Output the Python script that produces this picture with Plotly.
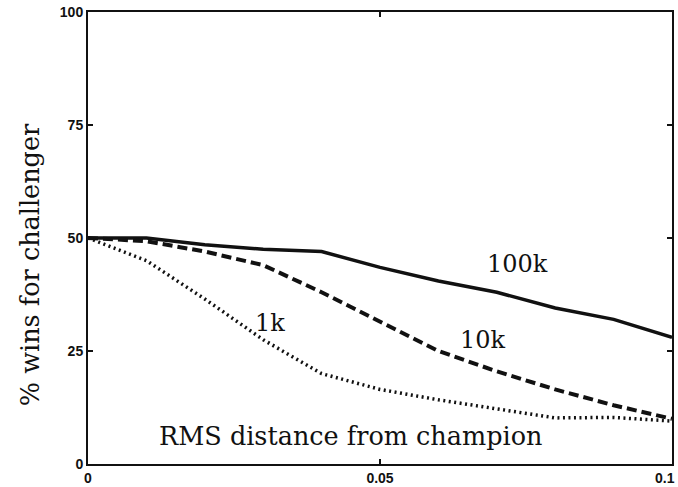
import plotly.graph_objects as go

# data
x_vals = [0, 0.01, 0.02, 0.03, 0.04, 0.05, 0.06, 0.07, 0.08, 0.09, 0.1]
wins_100k = [50, 50, 48.5, 47.5, 47, 43.5, 40.5, 38, 34.5, 32, 28]
wins_10k = [50, 49.3, 47, 44, 38, 31.5, 25, 20.5, 16.5, 13, 10]
wins_1k = [50, 45, 36.5, 27.5, 20, 16.5, 14.2, 12.2, 10.2, 10.3, 9.5]

x_ticks = [0, 0.05, 0.1]
x_tick_text = ["0", "0.05", ""]   # last label drawn separately so it stays inside the page
last_x_label = "0.1"
y_ticks = [0, 25, 50, 75, 100]
y_tick_text = ["0", "25", "50", "75", "100"]

labels = ["100k", "10k", "1k"]
label_x = [0.0736, 0.0676, 0.0312]
label_y = [44.2, 27.4, 31.2]

x_title = "RMS distance from champion"
y_title = "% wins for challenger"

serif = "DejaVu Serif"
ink = "#111111"
tick_font = dict(family="Liberation Sans", size=14, color=ink, weight="bold")

fig = go.Figure()
fig.add_trace(go.Scatter(x=x_vals, y=wins_100k, mode="lines",
                         line=dict(color=ink, width=3.5, dash="solid")))
fig.add_trace(go.Scatter(x=x_vals, y=wins_10k, mode="lines",
                         line=dict(color=ink, width=4, dash="10px,5px")))
fig.add_trace(go.Scatter(x=x_vals, y=wins_1k, mode="lines",
                         line=dict(color=ink, width=3.5, dash="2px,3.5px")))

for t, lx, ly in zip(labels, label_x, label_y):
    fig.add_annotation(x=lx, y=ly, xref="x", yref="y", text=t, showarrow=False,
                       font=dict(family=serif, size=24, color=ink),
                       xanchor="center", yanchor="middle")

fig.add_annotation(x=0.0449, y=6.3, xref="x", yref="y", text=x_title, showarrow=False,
                   font=dict(family=serif, size=25.5, color=ink),
                   xanchor="center", yanchor="middle")
fig.add_annotation(x=-0.0993, y=44, xref="paper", yref="y", text=y_title, showarrow=False,
                   textangle=-90,
                   font=dict(family=serif, size=25.5, color=ink),
                   xanchor="center", yanchor="middle")
fig.add_annotation(x=x_ticks[-1], y=-0.031, xref="x", yref="paper", text=last_x_label,
                   showarrow=False, font=tick_font, xanchor="right", yanchor="middle",
                   xshift=5)

axis_common = dict(showgrid=False, zeroline=False, showline=True, linecolor=ink,
                   linewidth=2, mirror="ticks", ticks="inside", ticklen=5,
                   tickwidth=1.5, tickcolor=ink, tickfont=tick_font)

fig.update_xaxes(range=[0, 0.1], tickvals=x_ticks, ticktext=x_tick_text, **axis_common)
fig.update_yaxes(range=[0, 100], tickvals=y_ticks, ticktext=y_tick_text, **axis_common)

fig.update_layout(width=678, height=487, showlegend=False,
                  margin=dict(l=88, r=6, t=12, b=23, autoexpand=False),
                  paper_bgcolor="white", plot_bgcolor="white")

fig.write_html("out.html")
